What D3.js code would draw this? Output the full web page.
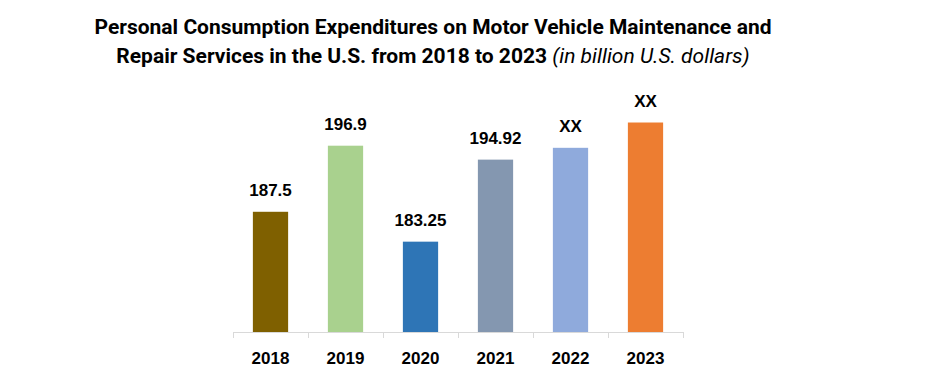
<!DOCTYPE html>
<html>
<head>
<meta charset="utf-8">
<script src="https://cdn.jsdelivr.net/npm/d3@7"></script>
<style>
  body { margin: 0; background: #fff; }
  .title { font-family: "Liberation Sans Narrow", "Roboto", sans-serif; font-weight: bold; font-size: 21px; fill: #000; }
  .title .unit { font-weight: normal; font-style: italic; }
  .valLabel { font-family: "Liberation Sans", Arial, sans-serif; font-weight: bold; font-size: 17px; fill: #000; }
  .xAxis text { font-family: "Liberation Sans", Arial, sans-serif; font-weight: bold; font-size: 17px; fill: #000; }
  .xAxis path, .xAxis line { stroke: #d9d9d9; }
</style>
</head>
<body>
<div id="chart"></div>
<script>
// datos
const years = ["2018", "2019", "2020", "2021", "2022", "2023"]
const spending = [187.5, 196.9, 183.25, 194.92, 196.6, 200.2]   // 2022 y 2023 estimados (salen como XX)
const valueLabels = ["187.5", "196.9", "183.25", "194.92", "XX", "XX"]
const barColors = ["#7f6000", "#a9d18e", "#2e75b6", "#8497b0", "#8faadc", "#ed7d31"]

const width = 930
const height = 369
const margin = { top: 80, bottom: 37, left: 233, right: 247 }

const data = years.map((y, i) => ({ year: y, value: spending[i], label: valueLabels[i], color: barColors[i] }))

const svg = d3.select("div#chart").append("svg")
    .attr("width", width)
    .attr("height", height)

// titulo
const title = svg.append("text").attr("class", "title")
    .attr("text-anchor", "middle")
    .attr("transform", `translate(433 0)`)
title.append("tspan").attr("x", 0).attr("y", 34)
    .text("Personal Consumption Expenditures on Motor Vehicle Maintenance and")
const line2 = title.append("tspan").attr("x", 0).attr("y", 63)
line2.append("tspan").text("Repair Services in the U.S. from 2018 to 2023 ")
line2.append("tspan").attr("class", "unit").text("(in billion U.S. dollars)")

const elementGroup = svg.append("g").attr("id", "elementGroup")
    .attr("transform", `translate(${margin.left} ${margin.top})`)
const xAxisGroup = svg.append("g").attr("class", "xAxis")
    .attr("transform", `translate(${margin.left} ${height - margin.bottom})`)

const innerW = width - margin.left - margin.right
const innerH = height - margin.top - margin.bottom

// escalas: el eje y no empieza en 0
const scaleX = d3.scaleBand().domain(years).range([0, innerW]).paddingInner(0.53).paddingOuter(0.265)
const scaleY = d3.scaleLinear().domain([170.4, 200.2]).range([innerH, innerH - 29.8 * 7.03])

// eje x con ticks entre categorias
const xAxis = d3.axisBottom(scaleX).tickSize(0).tickSizeOuter(0)
xAxisGroup.call(xAxis)
xAxisGroup.select(".domain").attr("d", `M0.5,0.5H${innerW + 0.5}`)
xAxisGroup.selectAll(".tick text").attr("dy", null).attr("y", 32)
const step = scaleX.step()
xAxisGroup.selectAll("line.sep").data(d3.range(years.length + 1))
    .join("line").attr("class", "sep")
    .attr("x1", i => i * step + 0.5).attr("x2", i => i * step + 0.5)
    .attr("y1", 0).attr("y2", 6)

// barras
elementGroup.selectAll("rect").data(data)
    .join("rect")
    .attr("x", d => scaleX(d.year))
    .attr("y", d => scaleY(d.value))
    .attr("width", scaleX.bandwidth())
    .attr("height", d => innerH - scaleY(d.value))
    .attr("fill", d => d.color)

// etiquetas de valor
elementGroup.selectAll("text.valLabel").data(data)
    .join("text").attr("class", "valLabel")
    .attr("text-anchor", "middle")
    .attr("x", d => scaleX(d.year) + scaleX.bandwidth() / 2)
    .attr("y", d => scaleY(d.value) - 15.5)
    .text(d => d.label)
</script>
</body>
</html>
